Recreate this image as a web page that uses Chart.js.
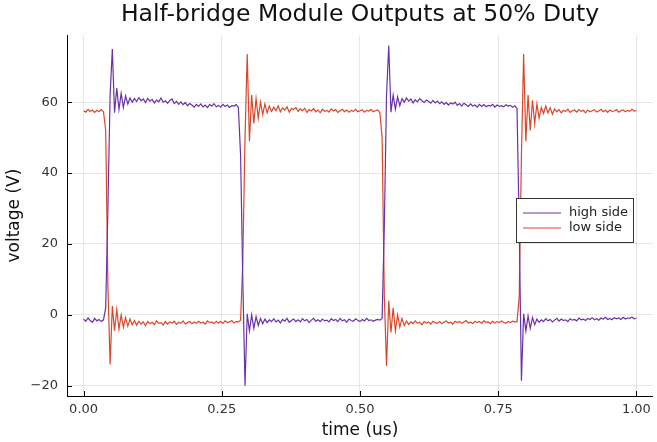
<!DOCTYPE html>
<html>
<head>
<meta charset="utf-8">
<script src="https://cdn.jsdelivr.net/npm/chart.js@4.4.1/dist/chart.umd.min.js"></script>
<style>
  body { margin: 0; background: #fff; }
</style>
</head>
<body>
<canvas id="halfBridge" width="657" height="442"></canvas>
<script>
// scope capture, one sample every 4 ns
const sampleStep = 0.004;
const seriesNames = ['high side', 'low side'];
const xTicks = [0, 0.25, 0.5, 0.75, 1];
const yTicks = [-20, 0, 20, 40, 60];

const highSide = [
  -1.2, -1.8, -0.9, -1.6, -2.1, -1.0, -1.7, -1.3, -1.9, -1.4,
  2, 30, 62, 75, 57, 64, 58, 62.5, 58.5, 61.8,
  59.5, 61.2, 60.0, 61.0, 60.2, 61.3, 60.4, 60.9, 59.9, 61.1,
  60.3, 60.8, 59.8, 60.6, 60.1, 61.2, 60.0, 60.4, 59.7, 60.5,
  60.9, 59.6, 60.2, 59.4, 60.1, 59.3, 59.9, 59.0, 59.6, 59.2,
  58.6, 59.4, 58.8, 59.5, 58.7, 59.2, 58.5, 59.3, 58.9, 59.6,
  58.7, 59.1, 58.6, 59.4, 58.8, 59.2, 58.5, 59.0, 58.9, 59.3,
  58.5, 45, 10, -20, 0.3, -4.5, 0, -3.8, -0.5, -3,
  -1, -2.5, -1.2, -2.2, -1.4, -1.9, -1.1, -2.0, -1.5, -2.3,
  -1.3, -1.8, -1.0, -2.1, -1.6, -1.2, -1.9, -1.4, -2.0, -1.1,
  -1.7, -1.3, -2.2, -1.5, -1.0, -1.8, -1.4, -1.9, -1.2, -1.7,
  -1.5, -2.0, -1.1, -1.6, -1.3, -1.9, -1.0, -1.7, -1.4, -2.1,
  -1.2, -1.6, -1.8, -1.1, -1.5, -1.9, -1.3, -1.7, -1.0, -1.6,
  -1.4, -1.8, -1.5, -1.3, -1.5, -1, 25, 62, 76, 57.2,
  62, 58, 61.5, 59, 61, 60.0, 61.2, 60.3, 60.9, 59.8,
  60.7, 60.1, 61.0, 60.4, 59.9, 60.6, 60.2, 59.7, 60.5, 59.8,
  60.3, 59.6, 60.1, 59.4, 59.9, 59.2, 59.8, 59.5, 60.0, 59.1,
  59.6, 58.9, 59.7, 59.3, 58.8, 59.5, 58.9, 59.2, 58.6, 59.4,
  58.8, 59.3, 58.7, 59.1, 58.9, 59.4, 58.6, 59.2, 58.8, 59.0,
  58.7, 59.3, 58.9, 59.1, 58.6, 59.0, 58.2, 25, -18.6, 0.3,
  -4.5, -0.3, -3.8, -0.8, -2.8, -1.2, -2.1, -1.4, -1.9, -1.1,
  -1.7, -1.3, -2.0, -1.5, -1.0, -1.8, -1.2, -1.6, -1.4, -1.9,
  -1.1, -1.5, -1.3, -1.7, -0.9, -1.4, -1.2, -1.6, -1.0, -1.3,
  -0.8, -1.4, -1.1, -1.5, -0.9, -1.2, -0.7, -1.3, -1.0, -1.4,
  -0.8, -1.1, -0.9, -1.3, -0.7, -1.2, -0.9, -1.0, -0.6, -1.1,
  -0.9
];

const lowSide = [
  57.6, 57.2, 58.0, 57.4, 57.8, 57.1, 57.7, 57.3, 57.9, 57.3,
  52, 8, -14, 2.5, -4.5, 1.5, -4, 0, -3.5, -0.8,
  -3.2, -1.2, -2.8, -1.6, -2.9, -1.8, -2.6, -2.0, -3.0, -1.9,
  -2.5, -2.1, -2.8, -1.7, -2.4, -2.2, -2.9, -1.9, -2.6, -2.0,
  -2.3, -1.8, -2.7, -2.1, -2.4, -1.7, -2.6, -2.2, -1.9, -2.5,
  -2.0, -2.4, -1.8, -2.3, -2.1, -2.6, -1.7, -2.2, -2.0, -2.5,
  -1.8, -2.3, -1.9, -2.4, -1.7, -2.2, -2.0, -1.6, -2.3, -1.9,
  -2.0, -1.5, 15, 50, 73.6, 49, 62, 54, 61, 55.5,
  60, 56.5, 59.5, 57, 58.9, 57.4, 58.6, 57.6, 59.0, 57.3,
  58.4, 57.8, 58.7, 57.2, 58.2, 57.9, 58.5, 57.4, 58.1, 57.6,
  58.3, 57.1, 57.9, 57.5, 58.2, 57.3, 57.8, 57.0, 58.0, 57.4,
  57.7, 57.2, 58.1, 57.5, 57.9, 57.1, 57.6, 58.0, 57.3, 57.8,
  57.2, 57.7, 57.4, 58.0, 57.3, 57.6, 57.9, 57.2, 57.7, 57.5,
  57.9, 57.3, 57.6, 57.8, 57, 50, 5, -14.4, 4, -5,
  2, -4.5, 0, -3.5, -1, -3, -1.8, -2.7, -2.0, -2.5,
  -1.7, -2.4, -2.1, -2.8, -1.9, -2.3, -2.0, -2.6, -1.8, -2.2,
  -2.4, -1.9, -2.5, -2.0, -1.7, -2.3, -2.1, -2.6, -1.8, -2.2,
  -1.9, -2.4, -2.0, -1.6, -2.3, -2.1, -2.5, -1.8, -2.2, -1.9,
  -2.4, -1.7, -2.1, -2.0, -2.5, -1.8, -2.3, -1.9, -2.2, -1.7,
  -2.1, -2.4, -1.9, -2.2, -1.8, -2.0, -2.0, 5, 45, 73.6,
  49, 62, 52, 60.5, 54, 59.5, 55.5, 58.5, 56.8, 58.9,
  57.0, 58.4, 56.6, 58.1, 57.3, 57.9, 57.0, 57.7, 57.4, 58.0,
  57.1, 57.6, 57.8, 57.2, 57.9, 57.4, 57.7, 57.0, 57.8, 57.3,
  57.6, 57.9, 57.2, 57.5, 58.0, 57.3, 57.7, 57.1, 57.8, 57.4,
  57.5, 57.9, 57.2, 57.6, 57.8, 57.3, 57.7, 57.4, 58.0, 57.5,
  57.6
];

const times = highSide.map((_, i) => i * sampleStep);
const colors = ['#6a32a6', '#d9472b'];
const FONT = 'DejaVu Sans';

// julia-style ticks pointing into the plot
const innerTicks = {
  id: 'innerTicks',
  afterDatasetsDraw(chart) {
    const { ctx, chartArea, scales } = chart;
    ctx.save();
    ctx.strokeStyle = '#000';
    ctx.lineWidth = 1;
    ctx.beginPath();
    xTicks.forEach(v => {
      const px = Math.round(scales.x.getPixelForValue(v)) + 0.5;
      ctx.moveTo(px, chartArea.bottom);
      ctx.lineTo(px, chartArea.bottom - 5);
    });
    yTicks.forEach(v => {
      const py = Math.round(scales.y.getPixelForValue(v)) + 0.5;
      ctx.moveTo(chartArea.left, py);
      ctx.lineTo(chartArea.left + 5, py);
    });
    ctx.stroke();
    ctx.restore();
  }
};

const boxLegend = {
  id: 'boxLegend',
  afterDraw(chart) {
    const { ctx, chartArea } = chart;
    const w = 117, h = 44;
    const x0 = chartArea.right - 20 - w;
    const y0 = Math.round((chartArea.top + chartArea.bottom) / 2) - 18;
    ctx.save();
    ctx.fillStyle = '#fff';
    ctx.fillRect(x0, y0, w, h);
    ctx.strokeStyle = '#333';
    ctx.lineWidth = 1;
    ctx.strokeRect(x0 + 0.5, y0 + 0.5, w, h);
    ctx.font = '13px "' + FONT + '"';
    ctx.textBaseline = 'middle';
    chart.data.datasets.forEach((ds, i) => {
      const y = y0 + 15 + i * 15;
      ctx.strokeStyle = ds.borderColor;
      ctx.lineWidth = 1.2;
      ctx.beginPath();
      ctx.moveTo(x0 + 7, y);
      ctx.lineTo(x0 + 45, y);
      ctx.stroke();
      ctx.fillStyle = '#222';
      ctx.fillText(ds.label, x0 + 53, y);
    });
    ctx.restore();
  }
};

const hb_ctx = document.getElementById('halfBridge');
new Chart(hb_ctx, {
  type: 'line',
  data: {
    datasets: [highSide, lowSide].map((vals, k) => ({
      label: seriesNames[k],
      data: vals.map((v, i) => ({ x: times[i], y: v })),
      borderColor: colors[k],
      borderWidth: 1.2,
      pointRadius: 0,
      tension: 0,
      fill: false
    }))
  },
  options: {
    responsive: false,
    animation: false,
    devicePixelRatio: 1,
    layout: { padding: { right: 3, left: 0, top: 0, bottom: 0 } },
    plugins: {
      legend: { display: false },
      tooltip: { enabled: false },
      title: {
        display: true,
        text: 'Half-bridge Module Outputs at 50% Duty',
        fullSize: false,
        color: '#111',
        font: { family: FONT, size: 23.5, weight: 'normal' },
        padding: { top: 1, bottom: 6 }
      }
    },
    scales: {
      x: {
        type: 'linear',
        min: -0.03,
        max: 1.03,
        afterBuildTicks: s => { s.ticks = xTicks.map(v => ({ value: v })); },
        afterFit: s => { s.height = 46; },
        ticks: {
          color: '#333',
          padding: 6,
          font: { family: FONT, size: 13 },
          callback: v => v.toFixed(2)
        },
        grid: { color: 'rgba(0,0,0,0.09)', drawTicks: false },
        border: { display: true, color: '#000', width: 1 },
        title: {
          display: true,
          text: 'time (us)',
          color: '#111',
          font: { family: FONT, size: 17 },
          padding: { top: 0, bottom: 1 }
        }
      },
      y: {
        min: -22.9,
        max: 78.9,
        afterBuildTicks: s => { s.ticks = yTicks.map(v => ({ value: v })); },
        afterFit: s => { s.width = 67; },
        ticks: {
          color: '#333',
          padding: 9,
          font: { family: FONT, size: 13 },
          callback: v => String(v).replace('-', '\u2212')
        },
        grid: { color: 'rgba(0,0,0,0.09)', drawTicks: false },
        border: { display: true, color: '#000', width: 1 },
        title: {
          display: true,
          text: 'voltage (V)',
          color: '#111',
          font: { family: FONT, size: 17 },
          padding: { top: 4, bottom: 0 }
        }
      }
    }
  },
  plugins: [innerTicks, boxLegend]
});
</script>
</body>
</html>
